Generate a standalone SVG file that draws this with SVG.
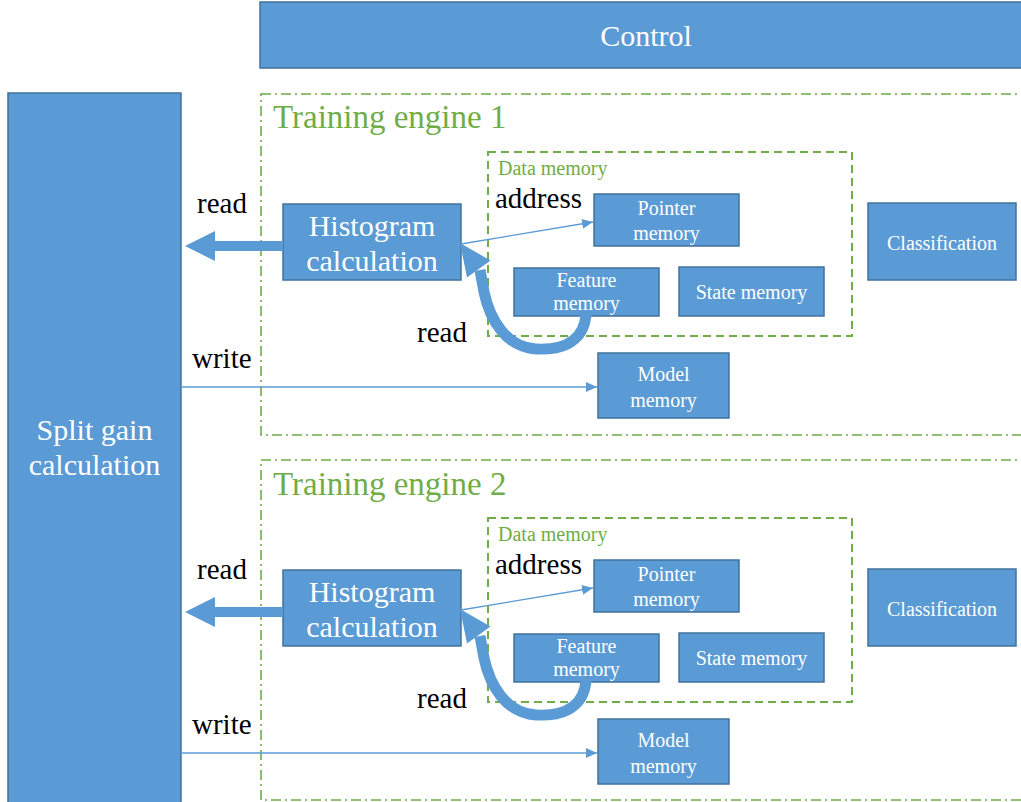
<svg xmlns="http://www.w3.org/2000/svg" width="1021" height="802" viewBox="0 0 1021 802">
<defs>
<style>
text{font-family:'Liberation Serif','Times New Roman',Tinos,'DejaVu Serif','Noto Serif',serif}
.box{fill:#5B9BD5;stroke:#41719C;stroke-width:1.5}
.wt{fill:#ffffff;text-anchor:middle}
.big{font-size:30px}
.sm{font-size:20px}
.lbl{fill:#000000;font-size:29px}
.eng{fill:none;stroke:#70AD47;stroke-width:1.6;stroke-dasharray:10 4 2 4}
.dm{fill:none;stroke:#70AD47;stroke-width:2;stroke-dasharray:8 5}
.gt{fill:#70AD47}
.thin{fill:none;stroke:#5B9BD5;stroke-width:1.3}
.thick{fill:none;stroke:#5B9BD5;stroke-width:11}
.head{fill:#5B9BD5}
</style>
<marker id="ah" markerUnits="userSpaceOnUse" markerWidth="12" markerHeight="12" refX="11" refY="6" orient="auto">
<path d="M0,1 L11,6 L0,11 Z" fill="#5B9BD5"/>
</marker>
</defs>
<rect width="1021" height="802" fill="#ffffff"/>

<g id="control">
<rect class="box" x="260" y="2" width="770" height="66"/>
<text class="wt big" x="646" y="46">Control</text>
</g>

<g id="split-gain">
<rect class="box" x="8" y="93" width="173" height="720"/>
<text class="wt big" x="94.5" y="440">Split gain</text>
<text class="wt big" x="94.5" y="475">calculation</text>
</g>

<!-- Engine 1 -->
<g id="engine1">
<rect class="eng" x="261" y="94" width="800" height="341"/>
<text class="gt" x="273" y="128" font-size="33">Training engine 1</text>
</g>
<g id="data-memory1">
<rect class="dm" x="488" y="152" width="364" height="184"/>
<text class="gt" x="498" y="175" font-size="20">Data memory</text>
</g>
<g id="histogram1">
<rect class="box" x="283" y="204" width="178" height="76"/>
<text class="wt big" x="372" y="236">Histogram</text>
<text class="wt big" x="372" y="271">calculation</text>
</g>
<g id="pointer1">
<rect class="box" x="594" y="194" width="145" height="52"/>
<text class="wt sm" x="666.5" y="215">Pointer</text>
<text class="wt sm" x="666.5" y="240">memory</text>
</g>
<g id="feature1">
<rect class="box" x="514" y="268" width="145" height="48"/>
<text class="wt sm" x="586.5" y="287">Feature</text>
<text class="wt sm" x="586.5" y="310">memory</text>
</g>
<g id="state1">
<rect class="box" x="679" y="267" width="145" height="49"/>
<text class="wt sm" x="751.5" y="299">State memory</text>
</g>
<g id="classification1">
<rect class="box" x="868" y="203" width="148" height="77"/>
<text class="wt sm" x="942" y="250">Classification</text>
</g>
<g id="model1">
<rect class="box" x="598" y="353" width="131" height="65"/>
<text class="wt sm" x="663.5" y="381">Model</text>
<text class="wt sm" x="663.5" y="407">memory</text>
</g>

<!-- Engine 2 -->
<g id="engine2">
<rect class="eng" x="261" y="460" width="800" height="340"/>
<text class="gt" x="273" y="495" font-size="33">Training engine 2</text>
</g>
<g id="data-memory2">
<rect class="dm" x="488" y="518" width="364" height="184"/>
<text class="gt" x="498" y="541" font-size="20">Data memory</text>
</g>
<g id="histogram2">
<rect class="box" x="283" y="570" width="178" height="76"/>
<text class="wt big" x="372" y="602">Histogram</text>
<text class="wt big" x="372" y="637">calculation</text>
</g>
<g id="pointer2">
<rect class="box" x="594" y="560" width="145" height="52"/>
<text class="wt sm" x="666.5" y="581">Pointer</text>
<text class="wt sm" x="666.5" y="606">memory</text>
</g>
<g id="feature2">
<rect class="box" x="514" y="634" width="145" height="48"/>
<text class="wt sm" x="586.5" y="653">Feature</text>
<text class="wt sm" x="586.5" y="676">memory</text>
</g>
<g id="state2">
<rect class="box" x="679" y="633" width="145" height="49"/>
<text class="wt sm" x="751.5" y="665">State memory</text>
</g>
<g id="classification2">
<rect class="box" x="868" y="569" width="148" height="77"/>
<text class="wt sm" x="942" y="616">Classification</text>
</g>
<g id="model2">
<rect class="box" x="598" y="719" width="131" height="65"/>
<text class="wt sm" x="663.5" y="747">Model</text>
<text class="wt sm" x="663.5" y="773">memory</text>
</g>

<g id="connectors">
<!-- engine 1 -->
<path class="head" d="M283,241 L215,241 L215,231 L185,246 L215,261 L215,251 L283,251 Z"/>
<line class="thin" x1="461" y1="244" x2="593" y2="222" marker-end="url(#ah)"/>
<path class="thick" d="M586,314 C584,345 557,350 536,349 C506,347 490,320 484,292 L480,270"/>
<path class="head" d="M460,243 L490.5,260.5 L467,277.5 Z"/>
<line class="thin" x1="181" y1="387" x2="597" y2="387" marker-end="url(#ah)"/>
<!-- engine 2 -->
<path class="head" d="M283,607 L215,607 L215,597 L185,612 L215,627 L215,617 L283,617 Z"/>
<line class="thin" x1="461" y1="610" x2="593" y2="588" marker-end="url(#ah)"/>
<path class="thick" d="M586,680 C584,711 557,716 536,715 C506,713 490,686 484,658 L480,636"/>
<path class="head" d="M460,609 L490.5,626.5 L467,643.5 Z"/>
<line class="thin" x1="181" y1="753" x2="597" y2="753" marker-end="url(#ah)"/>
</g>

<g id="labels">
<text class="lbl" x="197" y="213">read</text>
<text class="lbl" x="495" y="208">address</text>
<text class="lbl" x="417" y="342">read</text>
<text class="lbl" x="192" y="368">write</text>
<text class="lbl" x="197" y="579">read</text>
<text class="lbl" x="495" y="574">address</text>
<text class="lbl" x="417" y="708">read</text>
<text class="lbl" x="192" y="734">write</text>
</g>
</svg>
